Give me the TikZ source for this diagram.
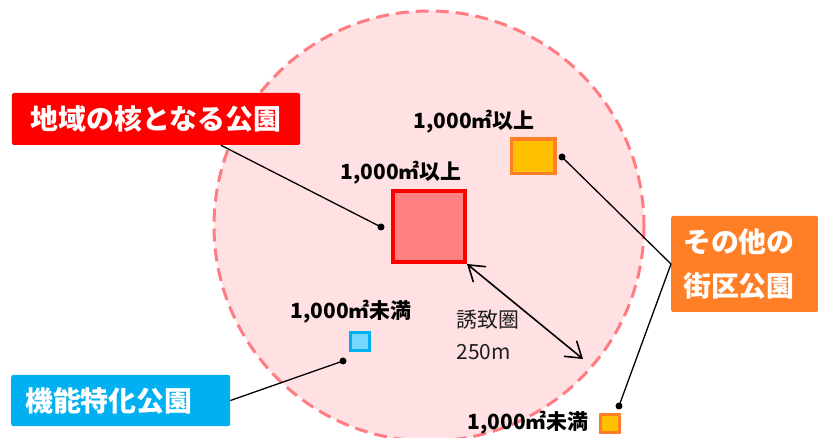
\documentclass[tikz,border=0pt]{standalone}
\usepackage{fontspec}
\setmainfont{Noto Sans CJK JP}
\usepackage{tikz}
\usetikzlibrary{arrows.meta}
\definecolor{rangefill}{HTML}{FFE1E4}
\definecolor{rangeline}{HTML}{FF7C82}
\definecolor{corered}{HTML}{FF0000}
\definecolor{corefill}{HTML}{FF8080}
\definecolor{otherorange}{HTML}{FF7F27}
\definecolor{otheryellow}{HTML}{FFC000}
\definecolor{funcblue}{HTML}{00B0F0}
\definecolor{funcfill}{HTML}{78D7FF}
\definecolor{darktext}{HTML}{1E1E1E}

\begin{document}
\begin{tikzpicture}[x=1bp,y=-1bp]
    \tikzstyle{dot}=[circle,fill=black,inner sep=0pt,minimum size=7bp]
    \tikzstyle{tag}=[text=white,font=\fontsize{28}{44}\selectfont\bfseries,rounded corners=2bp,inner sep=0pt]
    \tikzstyle{size}=[font=\fontsize{21}{24}\selectfont\bfseries,text=black]
    \tikzstyle{park}=[rectangle,inner sep=0pt]
    \tikzstyle{leader}=[line width=1.3bp,black]
    \useasboundingbox (0,0) rectangle (818,438);

    \draw[fill=rangefill,draw=rangeline,line width=3bp,dash pattern=on 13bp off 7bp] (429,226) circle [radius=215];

    \node (corelabel)[tag,fill=corered,minimum width=288bp,minimum height=52bp] at (156,119) {地域の核となる公園};
    \node (otherlabel)[tag,fill=otherorange,anchor=west,text width=123bp,inner xsep=12bp,minimum height=96bp,align=left] at (671,264) {その他の\\街区公園};
    \node (funclabel)[tag,fill=funcblue,anchor=west,text width=191bp,inner xsep=14bp,minimum height=51bp,align=left] at (11,400.5) {機能特化公園};

    \node (coresq)[park,draw=corered,fill=corefill,line width=4bp,minimum width=72bp,minimum height=71bp] at (429,226.5) {};
    \node (othersq)[park,draw=otherorange,fill=otheryellow,line width=3.5bp,minimum width=43.5bp,minimum height=34.5bp] at (533,156.5) {};
    \node (funcsq)[park,draw=funcblue,fill=funcfill,line width=3bp,minimum width=19bp,minimum height=18bp] at (360,341.5) {};
    \node (smallsq)[park,draw=otherorange,fill=otheryellow,line width=3bp,minimum width=19bp,minimum height=18bp] at (610,423.5) {};

    \node (corearea)[size] at (401,173) {1,000㎡以上};
    \node (otherarea)[size] at (474,122) {1,000㎡以上};
    \node (funcarea)[size] at (351,312) {1,000㎡未満};
    \node (smallarea)[size] at (528,423) {1,000㎡未満};

    \coordinate (rangeend) at (583,359);
    \draw[line width=1.6bp,{Straight Barb[length=15bp,width=20bp]}-{Straight Barb[length=15bp,width=20bp]}] (coresq.south east) -- (rangeend);
    \node (rangetext)[anchor=west,font=\fontsize{21}{32}\selectfont,text=darktext,align=left] at (453,335) {誘致圏\\250m};

    \node (coredot)[dot] at (381,227) {};
    \node (otherdot)[dot] at (562,157) {};
    \node (funcdot)[dot] at (343,361) {};
    \node (smalldot)[dot] at (619,406) {};
    \draw[leader] (corelabel.-22) -- (coredot.center);
    \draw[leader] (otherlabel.west) -- (otherdot.center);
    \draw[leader] (otherlabel.west) -- (smalldot.center);
    \draw[leader] (funclabel.east) -- (funcdot.center);
\end{tikzpicture}
\end{document}
